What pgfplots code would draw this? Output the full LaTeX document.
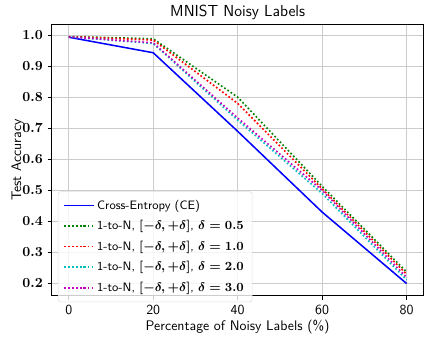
\documentclass[border=0pt]{standalone}
\usepackage{pgfplots}
\pgfplotsset{compat=1.18}
\usepackage{amsmath}
\definecolor{mplg}{rgb}{0,0.5,0}
\definecolor{mplc}{rgb}{0,0.75,0.75}
\definecolor{mplm}{rgb}{0.75,0,0.75}
\pgfplotsset{
  shortline/.style={legend image code/.code={\path (0pt,0pt) -- (21pt,0pt); \draw[##1] (2.5pt,0pt) -- (15.5pt,0pt);}}
}
\begin{document}
\begin{tikzpicture}
\begin{axis}[
  scale only axis,
  width=268pt, height=196pt,
  xmin=-4, xmax=84, ymin=0.16, ymax=1.035,
  xtick={0,20,40,60,80},
  xticklabels={0,20,40,60,80},
  xticklabel style={font=\sffamily},
  ytick={0.2,0.3,0.4,0.5,0.6,0.7,0.8,0.9,1.0},
  yticklabels={0.2,0.3,0.4,0.5,0.6,0.7,0.8,0.9,1.0},
  yticklabel style={font=\bfseries},
  tick align=outside, xtick pos=left, ytick pos=left,
  major tick length=3pt,
  tick style={black, line width=0.6pt},
  grid=major,
  major grid style={gray!40, line width=0.75pt},
  axis line style={black, line width=0.7pt},
  title={\fontsize{11.5}{13}\selectfont\sffamily MNIST Noisy Labels},
  title style={yshift=-6pt},
  xlabel={\sffamily Percentage of Noisy Labels (\%)},
  ylabel={\sffamily Test Accuracy},
  xlabel style={yshift=3pt},
  ylabel style={yshift=-8pt},
  legend cell align=left,
  legend style={at={(0.016,0.385)}, anchor=north west, draw=gray!25, rounded corners=2pt,
    fill=white, fill opacity=0.8, text opacity=1, font=\fontsize{8.8}{10.5}\selectfont\sffamily,
    row sep=2.6pt, inner xsep=4pt, inner ysep=4pt},
  shortline,
]
\addplot[blue, line width=1.1pt] coordinates {(0,0.993) (20,0.943) (40,0.690) (60,0.430) (80,0.200)};
\addlegendentry{Cross-Entropy (CE)}
\addplot[mplg, line width=1.2pt, dash pattern=on 1.2pt off 1.6pt] coordinates {(0,0.995) (20,0.988) (40,0.800) (60,0.513) (80,0.237)};
\addlegendentry{1-to-N, {\boldmath$[-\delta,+\delta]$}, {\boldmath$\delta=0.5$}}
\addplot[red, line width=1.2pt, dash pattern=on 1.2pt off 1.6pt] coordinates {(0,0.995) (20,0.984) (40,0.780) (60,0.505) (80,0.230)};
\addlegendentry{1-to-N, {\boldmath$[-\delta,+\delta]$}, {\boldmath$\delta=1.0$}}
\addplot[mplc, line width=1.2pt, dash pattern=on 1.2pt off 1.6pt] coordinates {(0,0.994) (20,0.973) (40,0.726) (60,0.490) (80,0.212)};
\addlegendentry{1-to-N, {\boldmath$[-\delta,+\delta]$}, {\boldmath$\delta=2.0$}}
\addplot[mplm, line width=1.2pt, dash pattern=on 1.2pt off 1.6pt] coordinates {(0,0.994) (20,0.975) (40,0.733) (60,0.500) (80,0.220)};
\addlegendentry{1-to-N, {\boldmath$[-\delta,+\delta]$}, {\boldmath$\delta=3.0$}}
\end{axis}
\path (current bounding box.south west) -- ++(-5pt,0pt);
\end{tikzpicture}
\end{document}
